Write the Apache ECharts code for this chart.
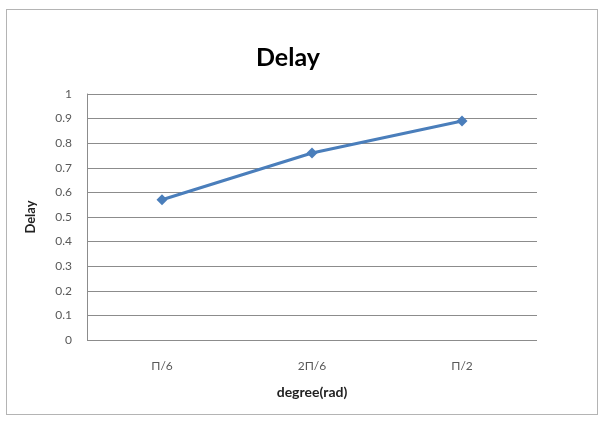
<!DOCTYPE html>
<html>
<head>
<meta charset="utf-8">
<script src="https://cdn.jsdelivr.net/npm/echarts@6/dist/echarts.min.js"></script>
<style>
  html, body { margin: 0; padding: 0; background: #fff; }
  #frame { position: absolute; left: 6px; top: 9px; width: 590px; height: 404px; border: 1px solid #b4b4b4; }
  #chart { position: absolute; left: 0; top: 0; width: 610px; height: 434px; }
</style>
</head>
<body>
<div id="frame"></div>
<div id="chart"></div>
<script>
const categories = ['Π/6', '2Π/6', 'Π/2'];
const delayValues = [0.57, 0.76, 0.89];
const yTicks = { min: 0, max: 1, interval: 0.1 };

const font = 'Lato, "Open Sans", sans-serif';
const chart = echarts.init(document.getElementById('chart'), null, { renderer: 'canvas' });

chart.setOption({
  backgroundColor: 'transparent',
  animation: false,
  title: {
    text: 'Delay',
    left: 251,
    top: 40,
    textStyle: { fontFamily: font, fontWeight: 'bold', fontSize: 25, color: '#000' }
  },
  grid: { left: 87, right: 73, top: 94, bottom: 94 },
  xAxis: {
    type: 'category',
    data: categories,
    boundaryGap: true,
    name: 'degree(rad)',
    nameLocation: 'middle',
    nameGap: 45,
    nameTextStyle: { fontFamily: font, fontWeight: 'bold', fontSize: 14, color: '#222' },
    axisLine: { show: false },
    axisTick: { show: false },
    axisLabel: { fontFamily: font, fontSize: 12, color: '#595959', margin: 20 },
    splitLine: { show: false }
  },
  yAxis: {
    type: 'value',
    min: yTicks.min,
    max: yTicks.max,
    interval: yTicks.interval,
    name: 'Delay',
    nameLocation: 'middle',
    nameGap: 50,
    nameTextStyle: { fontFamily: font, fontWeight: 'bold', fontSize: 13, color: '#222' },
    axisLine: { show: true, lineStyle: { color: '#8c8c8c', width: 1 } },
    axisTick: { show: false },
    axisLabel: { fontFamily: font, fontSize: 12, color: '#595959', margin: 15 },
    splitLine: { show: true, lineStyle: { color: '#8c8c8c', width: 1 } }
  },
  series: [{
    type: 'line',
    data: delayValues,
    symbol: 'diamond',
    symbolSize: 11,
    lineStyle: { color: '#4a7ebb', width: 3 },
    itemStyle: { color: '#4a7ebb' }
  }]
});
</script>
</body>
</html>
